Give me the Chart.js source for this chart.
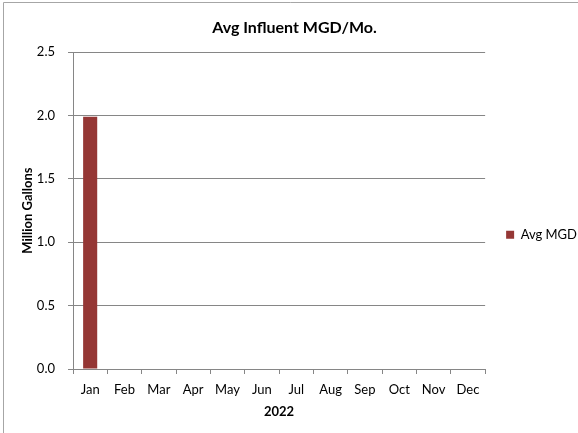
<!DOCTYPE html>
<html>
<head>
<meta charset="utf-8">
<script src="https://cdn.jsdelivr.net/npm/chart.js@4"></script>
<style>
html,body{margin:0;padding:0;background:#fff;}
#wrap{width:578px;height:433px;position:relative;}
</style>
</head>
<body>
<div id="wrap"><canvas id="c" width="578" height="433"></canvas></div>
<script>
const months = ['Jan','Feb','Mar','Apr','May','Jun','Jul','Aug','Sep','Oct','Nov','Dec'];
const avgMGD = [1.99, null, null, null, null, null, null, null, null, null, null, null];
const yTicks = [0, 0.5, 1.0, 1.5, 2.0, 2.5];
const seriesName = 'Avg MGD';
const chartTitle = 'Avg Influent MGD/Mo.';
const yTitle = 'Million Gallons';
const xTitle = '2022';

const FONT = 'Lato, "Open Sans", sans-serif';
const borderPlugin = {
  id: 'frame',
  afterDraw(chart) {
    const ctx = chart.ctx;
    ctx.save();
    ctx.strokeStyle = '#a6a6a6';
    ctx.lineWidth = 1;
    ctx.beginPath();
    ctx.moveTo(3.5, 2.5); ctx.lineTo(3.5, 433);
    ctx.moveTo(3.5, 2.5); ctx.lineTo(578, 2.5);
    ctx.stroke();
    ctx.restore();
  }
};

new Chart(document.getElementById('c'), {
  type: 'bar',
  data: {
    labels: months,
    datasets: [{
      label: seriesName,
      data: avgMGD,
      backgroundColor: '#953735',
      borderWidth: 0,
      categoryPercentage: 1.0,
      barPercentage: 0.41
    }]
  },
  options: {
    responsive: false,
    animation: false,
    devicePixelRatio: 1,
    layout: { padding: { left: 2, right: -9, top: 0, bottom: 13 } },
    plugins: {
      title: {
        display: true,
        text: chartTitle,
        color: '#000',
        font: { family: FONT, size: 16, weight: 'bold' },
        padding: { top: 18, bottom: 15 }
      },
      legend: {
        position: 'right',
        title: {
          display: true,
          text: ' ',
          font: { family: FONT, size: 12 },
          padding: { top: 0, bottom: 35 }
        },
        labels: {
          color: '#000',
          font: { family: FONT, size: 13 },
          boxWidth: 8,
          boxHeight: 8,
          padding: 21
        }
      },
      tooltip: { enabled: false }
    },
    scales: {
      x: {
        afterFit(scale) { scale.height = 51; },
        grid: {
          display: true,
          offset: true,
          drawOnChartArea: false,
          drawTicks: true,
          tickLength: 5,
          color: '#868686'
        },
        border: { color: '#868686' },
        ticks: {
          color: '#000',
          font: { family: FONT, size: 13 },
          maxRotation: 0,
          autoSkip: false,
          padding: 8
        },
        title: {
          display: true,
          text: xTitle,
          color: '#000',
          font: { family: FONT, size: 13, weight: 'bold' },
          padding: { top: 0, bottom: 0 }
        }
      },
      y: {
        min: 0,
        max: 2.5,
        afterBuildTicks(scale) { scale.ticks = yTicks.map(v => ({ value: v })); },
        afterFit(scale) { scale.width = 71; },
        grid: {
          color: '#868686',
          tickLength: 5,
          drawTicks: true
        },
        border: { color: '#868686' },
        ticks: {
          color: '#000',
          font: { family: FONT, size: 13 },
          padding: 13,
          callback: v => Number(v).toFixed(1)
        },
        title: {
          display: true,
          text: yTitle,
          color: '#000',
          font: { family: FONT, size: 13, weight: 'bold' },
          padding: { top: 18, bottom: 0 }
        }
      }
    }
  },
  plugins: [borderPlugin]
});
</script>
</body>
</html>
